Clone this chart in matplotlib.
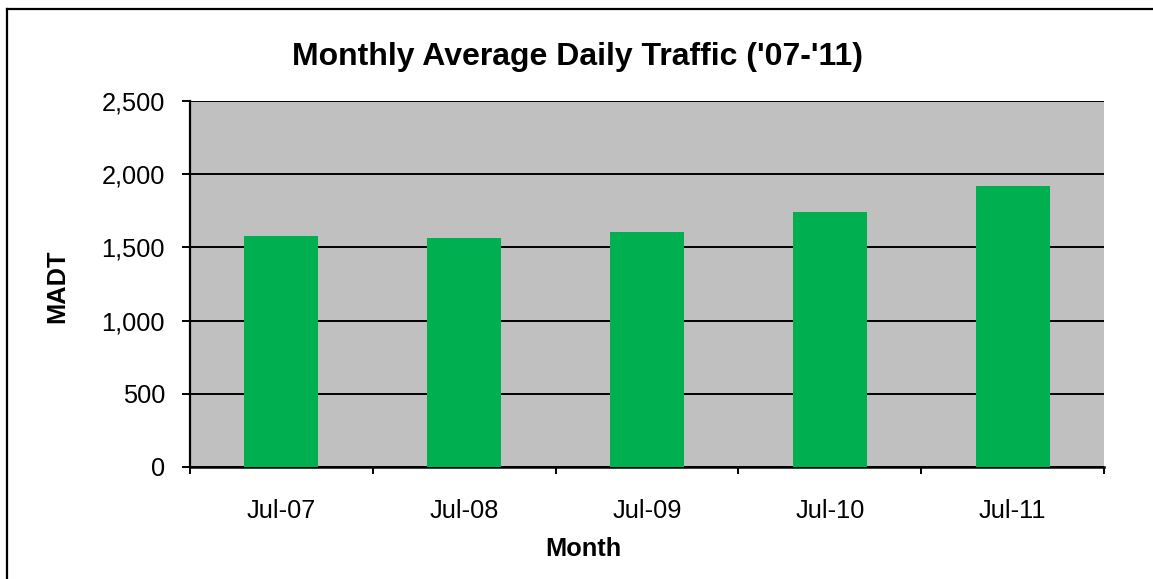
import matplotlib
matplotlib.use("Agg")
import matplotlib.pyplot as plt
from matplotlib.ticker import FuncFormatter, FixedLocator
from matplotlib.lines import Line2D

months = ["Jul-07", "Jul-08", "Jul-09", "Jul-10", "Jul-11"]
madt = [1578, 1564, 1605, 1742, 1919]
yticks = [0, 500, 1000, 1500, 2000, 2500]

plt.rcParams['font.family'] = ['Liberation Sans', 'DejaVu Sans']

W, H = 1153, 579
fig = plt.figure(figsize=(W / 100, H / 100), dpi=100)
ax = fig.add_axes([190 / W, (H - 467) / H, 914 / W, 366 / H])
ax.set_facecolor('#C0C0C0')

x = list(range(len(months)))
ax.bar(x, madt, width=0.405, color='#00B050', zorder=3)

ax.set_xlim(-0.5, len(months) - 0.5)
ax.set_ylim(0, 2500)
ax.set_yticks(yticks)
ax.yaxis.set_major_formatter(FuncFormatter(lambda v, p: f"{int(v):,}"))
ax.grid(axis='y', color='black', linewidth=1.4, zorder=1)
ax.set_axisbelow(True)

ax.xaxis.set_major_locator(FixedLocator([i - 0.5 for i in range(len(months) + 1)]))
ax.xaxis.set_minor_locator(FixedLocator(x))
ax.set_xticklabels([])
ax.set_xticklabels(months, minor=True)
ax.tick_params(axis='x', which='minor', length=0, pad=23, labelsize=18.3)
ax.tick_params(axis='x', which='major', length=5, width=1.4, direction='out', color='black')
ax.tick_params(axis='y', length=6, width=1.4, direction='out', labelsize=18.3, pad=12)

ax.spines['right'].set_visible(False)
ax.spines['top'].set_visible(False)
ax.spines['left'].set_linewidth(1.6)
ax.spines['bottom'].set_linewidth(1.8)

fig.text(578 / W, 1 - 57 / H, "Monthly Average Daily Traffic ('07-'11)",
         ha='center', va='center', fontsize=23, fontweight='bold')
fig.text(583 / W, 1 - 549 / H, "Month", ha='center', va='center',
         fontsize=18.3, fontweight='bold')
fig.text(57 / W, 1 - 286 / H, "MADT", ha='center', va='center',
         fontsize=18.3, fontweight='bold', rotation=90)

# chart area border (left and top visible)
fig.add_artist(Line2D([6.5 / W, 6.5 / W], [0, 1 - 9 / H], color='black', linewidth=1.6, transform=fig.transFigure))
fig.add_artist(Line2D([6.5 / W, 1], [1 - 9 / H, 1 - 9 / H], color='black', linewidth=1.6, transform=fig.transFigure))

fig.savefig("out.png", dpi=100)
